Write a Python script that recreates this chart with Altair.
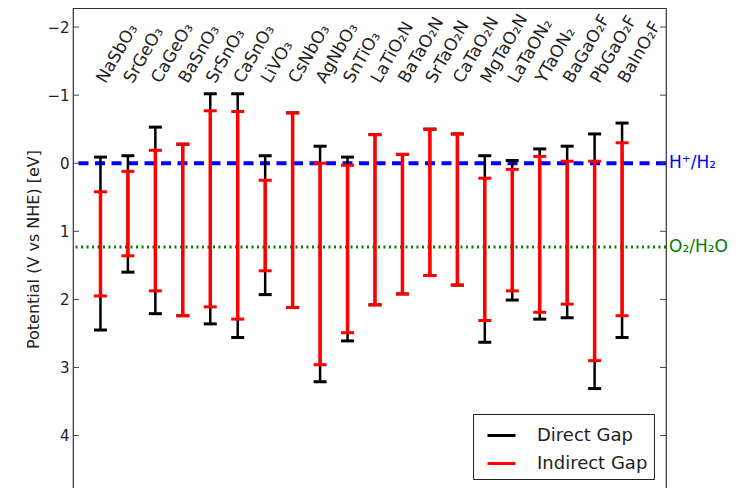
import altair as alt
import pandas as pd

materials = ["NaSbO₃", "SrGeO₃", "CaGeO₃", "BaSnO₃", "SrSnO₃", "CaSnO₃", "LiVO₃",
             "CsNbO₃", "AgNbO₃", "SnTiO₃", "LaTiO₂N", "BaTaO₂N", "SrTaO₂N",
             "CaTaO₂N", "MgTaO₂N", "LaTaON₂", "YTaON₂", "BaGaO₂F", "PbGaO₂F", "BaInO₂F"]

direct_top = [-0.09, -0.11, -0.53, -0.28, -1.02, -1.02, -0.11, -0.74, -0.25, -0.09,
              -0.42, -0.13, -0.50, -0.43, -0.11, -0.04, -0.21, -0.25, -0.43, -0.59]
direct_bottom = [2.45, 1.60, 2.21, 2.24, 2.36, 2.56, 1.93, 2.12, 3.21, 2.61,
                 2.08, 1.92, 1.65, 1.79, 2.63, 2.01, 2.29, 2.27, 3.31, 2.56]
indirect_top = [0.42, 0.12, -0.19, -0.28, -0.77, -0.76, 0.25, -0.74, 0.00, 0.03,
                -0.42, -0.13, -0.50, -0.43, 0.22, 0.09, -0.10, -0.03, -0.03, -0.30]
indirect_bottom = [1.95, 1.36, 1.875, 2.24, 2.11, 2.29, 1.58, 2.12, 2.96, 2.49,
                   2.08, 1.92, 1.65, 1.79, 2.31, 1.875, 2.19, 2.07, 2.90, 2.24]

gap_types = ["Direct Gap", "Indirect Gap"]
gap_colors = ["#000000", "#ff0000"]
gap_widths = [2.5, 3.5]

ref_levels = [0.0, 1.23]
ref_labels = ["H⁺/H₂", "O₂/H₂O"]
ref_colors = ["#0000ff", "#008000"]

y_ticks = [-2, -1, 0, 1, 2, 3, 4]

positions = list(range(1, len(materials) + 1))
X_MAX = 21.6
LABEL_Y = -1.15

rows = []
for i, m in enumerate(materials):
    rows.append({"material": m, "pos": positions[i], "type": gap_types[0],
                 "top": direct_top[i], "bottom": direct_bottom[i]})
for i, m in enumerate(materials):
    rows.append({"material": m, "pos": positions[i], "type": gap_types[1],
                 "top": indirect_top[i], "bottom": indirect_bottom[i]})
bars = pd.DataFrame(rows)

labels_df = pd.DataFrame({"material": materials, "pos": positions, "ly": [LABEL_Y] * len(materials)})
ticks_df = pd.DataFrame({"t": y_ticks})

W, H = 593, 482

xs = alt.Scale(domain=[0, X_MAX], nice=False, zero=False)
ys = alt.Scale(domain=[-2.28, 4.8], reverse=True, nice=False, zero=False)
yaxis = alt.Axis(values=y_ticks, title="Potential (V vs NHE) [eV]",
                 tickSize=0, domain=False, grid=False,
                 labelFontSize=15, titleFontSize=16, titleFontWeight="normal",
                 labelPadding=4, titlePadding=5, labelColor="#222", titleColor="#222",
                 labelFont="DejaVu Sans", titleFont="DejaVu Sans")


def X(field):
    return alt.X(field, scale=xs, axis=None)


def Y(field):
    return alt.Y(field, scale=ys, axis=yaxis)


color_enc = alt.Color("type:N", scale=alt.Scale(domain=gap_types, range=gap_colors),
                      legend=alt.Legend(title=None, orient="none", legendX=400, legendY=406,
                                        symbolType="stroke", symbolSize=784, symbolStrokeWidth=3,
                                        symbolOffset=7,
                                        labelFontSize=18, labelFont="DejaVu Sans", labelColor="#222",
                                        labelOffset=20, rowPadding=3, padding=6,
                                        strokeColor="#222", fillColor="white", cornerRadius=0))

base = alt.Chart(bars).transform_calculate(xl="datum.pos - 0.237", xr="datum.pos + 0.237")

layers = []
hline = alt.Chart(pd.DataFrame({"level": [ref_levels[0]]})).mark_rule(
    color=ref_colors[0], strokeWidth=4, strokeDash=[10, 6.5]).encode(y=Y("level:Q"))
oline = alt.Chart(pd.DataFrame({"level": [ref_levels[1]]})).mark_rule(
    color=ref_colors[1], strokeWidth=3, strokeDash=[2, 3.5]).encode(y=Y("level:Q"))
layers += [hline, oline]

for t, w in zip(gap_types, gap_widths):
    b = base.transform_filter(alt.datum.type == t)
    vert = b.mark_rule(strokeWidth=w).encode(x=X("pos:Q"), y=Y("top:Q"), y2="bottom:Q",
                                             color=color_enc)
    cap_t = b.mark_rule(strokeWidth=3).encode(x=X("xl:Q"), x2="xr:Q", y=Y("top:Q"),
                                              color=color_enc)
    cap_b = b.mark_rule(strokeWidth=3).encode(x=X("xl:Q"), x2="xr:Q", y=Y("bottom:Q"),
                                              color=color_enc)
    layers += [vert, cap_t, cap_b]

mat_text = alt.Chart(labels_df).mark_text(angle=300, align="left", baseline="alphabetic",
                                          fontSize=17, font="DejaVu Sans", color="#222",
                                          dx=3, dy=4).encode(
    x=X("pos:Q"), y=Y("ly:Q"), text="material:N")
layers.append(mat_text)

for lvl, lab, col in zip(ref_levels, ref_labels, ref_colors):
    rdf = pd.DataFrame({"level": [lvl], "label": [lab], "xpos": [X_MAX]})
    layers.append(alt.Chart(rdf).mark_text(align="left", baseline="middle", dx=3, fontSize=17,
                                           font="DejaVu Sans", color=col).encode(
        x=X("xpos:Q"), y=Y("level:Q"), text="label:N"))

tl = alt.Chart(ticks_df).mark_rule(color="#444", strokeWidth=1).encode(
    y=Y("t:Q"), x=alt.value(0), x2=alt.value(6))
tr = alt.Chart(ticks_df).mark_rule(color="#444", strokeWidth=1).encode(
    y=Y("t:Q"), x=alt.value(W - 6), x2=alt.value(W))
layers += [tl, tr]

chart = alt.layer(*layers).properties(
    width=W, height=H,
    autosize=alt.AutoSizeParams(type="none"),
    padding={"left": 65, "top": 0, "right": 65, "bottom": 0},
).configure_view(stroke="#333", strokeWidth=1.2)

chart.save("out.html", embed_options={"renderer": "svg", "actions": False})
